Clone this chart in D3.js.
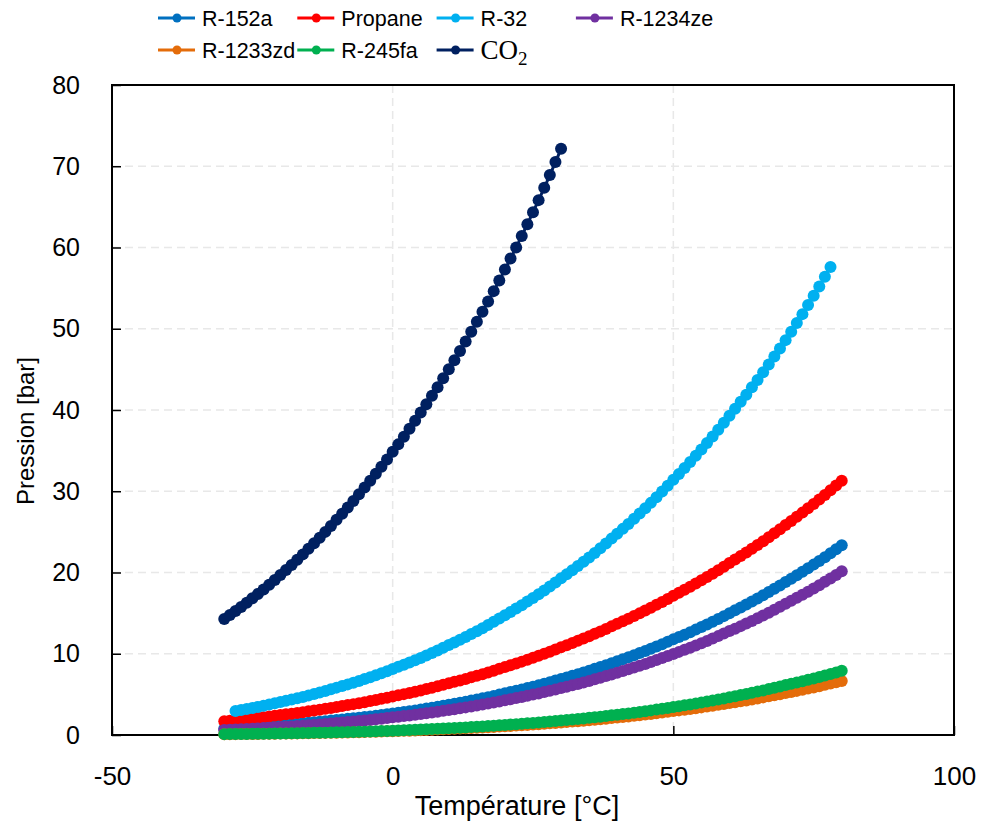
<!DOCTYPE html>
<html>
<head>
<meta charset="utf-8">
<script src="https://cdn.jsdelivr.net/npm/d3@7"></script>
<style>
  html, body { margin: 0; padding: 0; background: #fff; }
  svg { display: block; }
</style>
</head>
<body>
<svg id="chart" width="983" height="825"></svg>
<script>
// ---------------- DATA ----------------
const temperatures = [-30,-29,-28,-27,-26,-25,-24,-23,-22,-21,-20,-19,-18,-17,-16,-15,-14,-13,-12,-11,-10,-9,-8,-7,-6,-5,-4,-3,-2,-1,0,1,2,3,4,5,6,7,8,9,10,11,12,13,14,15,16,17,18,19,20,21,22,23,24,25,26,27,28,29,30,31,32,33,34,35,36,37,38,39,40,41,42,43,44,45,46,47,48,49,50,51,52,53,54,55,56,57,58,59,60,61,62,63,64,65,66,67,68,69,70,71,72,73,74,75,76,77,78,79,80];

const seriesNames = ["R-152a", "Propane", "R-32", "R-1234ze", "R-1233zd", "R-245fa", "CO2"];

// Saturation pressure [bar], one value per temperature step from its range start
const tempRangeR152a   = [-30, 80];
const tempRangePropane = [-30, 80];
const tempRangeR32     = [-28, 78];
const tempRangeR1234ze = [-30, 80];
const tempRangeR1233zd = [-30, 80];
const tempRangeR245fa  = [-30, 80];
const tempRangeCO2     = [-30, 30];

const pressureR152a = [0.77,0.81,0.84,0.88,0.93,0.97,1.02,1.06,1.11,1.17,1.22,
  1.27,1.33,1.38,1.44,1.50,1.57,1.63,1.70,1.77,1.85,
  1.92,1.99,2.06,2.13,2.21,2.29,2.37,2.46,2.55,2.64,
  2.73,2.83,2.93,3.03,3.14,3.25,3.36,3.48,3.60,3.73,
  3.85,3.98,4.10,4.24,4.37,4.52,4.66,4.81,4.97,5.13,
  5.28,5.44,5.61,5.78,5.95,6.13,6.31,6.50,6.70,6.90,
  7.09,7.29,7.49,7.70,7.92,8.14,8.37,8.60,8.84,9.09,
  9.33,9.57,9.82,10.08,10.34,10.61,10.89,11.18,11.47,11.77,
  12.06,12.35,12.66,12.97,13.28,13.61,13.94,14.28,14.63,14.99,
  15.34,15.69,16.05,16.42,16.80,17.19,17.59,17.99,18.41,18.83,
  19.24,19.66,20.09,20.52,20.97,21.42,21.89,22.37,22.85,23.35];

const pressurePropane = [1.68,1.74,1.81,1.88,1.95,2.03,2.11,2.19,2.27,2.36,2.45,
  2.54,2.62,2.71,2.81,2.91,3.01,3.11,3.22,3.33,3.45,
  3.56,3.68,3.80,3.92,4.04,4.17,4.31,4.45,4.59,4.74,
  4.88,5.03,5.18,5.33,5.49,5.65,5.82,6.00,6.18,6.36,
  6.54,6.72,6.90,7.10,7.29,7.49,7.70,7.92,8.14,8.36,
  8.58,8.80,9.03,9.26,9.50,9.74,10.00,10.25,10.52,10.79,
  11.05,11.32,11.59,11.87,12.15,12.45,12.75,13.05,13.37,13.69,
  14.00,14.32,14.64,14.97,15.31,15.66,16.02,16.38,16.75,17.13,
  17.50,17.87,18.25,18.64,19.04,19.45,19.86,20.29,20.72,21.16,
  21.59,22.02,22.47,22.92,23.38,23.85,24.34,24.83,25.33,25.84,
  26.34,26.85,27.37,27.90,28.44,28.99,29.55,30.12,30.71,31.30];

const pressureR32 = [2.96,3.08,3.20,3.33,3.46,3.60,3.75,3.90,4.06,
  4.21,4.36,4.53,4.69,4.87,5.04,5.23,5.42,5.62,5.83,
  6.03,6.23,6.44,6.66,6.89,7.12,7.36,7.61,7.86,8.13,
  8.39,8.65,8.92,9.20,9.49,9.79,10.09,10.41,10.74,11.07,
  11.39,11.72,12.07,12.42,12.78,13.15,13.53,13.93,14.33,14.75,
  15.15,15.56,15.98,16.42,16.86,17.32,17.79,18.27,18.77,19.28,
  19.77,20.27,20.79,21.32,21.86,22.41,22.98,23.57,24.17,24.78,
  25.37,25.98,26.61,27.25,27.90,28.57,29.25,29.96,30.68,31.41,
  32.12,32.85,33.59,34.36,35.13,35.93,36.74,37.58,38.43,39.30,
  40.14,41.01,41.89,42.79,43.70,44.64,45.60,46.58,47.58,48.60,
  49.64,50.71,51.80,52.91,54.05,55.21,56.39,57.60];

const pressureR1234ze = [0.62,0.65,0.68,0.71,0.74,0.78,0.81,0.85,0.89,0.93,0.97,
  1.01,1.05,1.10,1.15,1.19,1.24,1.30,1.35,1.41,1.47,
  1.53,1.59,1.65,1.72,1.79,1.86,1.93,2.01,2.09,2.17,
  2.25,2.33,2.41,2.50,2.59,2.68,2.77,2.87,2.97,3.08,
  3.18,3.29,3.40,3.51,3.63,3.75,3.87,4.00,4.13,4.27,
  4.40,4.54,4.68,4.82,4.97,5.12,5.28,5.44,5.61,5.78,
  5.95,6.12,6.29,6.47,6.66,6.85,7.05,7.25,7.46,7.67,
  7.87,8.08,8.30,8.52,8.75,8.98,9.22,9.47,9.72,9.98,
  10.23,10.49,10.75,11.02,11.30,11.58,11.87,12.17,12.48,12.79,
  13.09,13.40,13.72,14.04,14.37,14.71,15.06,15.41,15.78,16.15,
  16.51,16.88,17.26,17.64,18.03,18.44,18.85,19.27,19.70,20.14];

const pressureR1233zd = [0.095,0.101,0.107,0.113,0.120,0.127,0.135,0.143,0.151,0.160,0.170,
  0.179,0.189,0.200,0.211,0.222,0.234,0.247,0.261,0.275,0.290,
  0.304,0.319,0.335,0.352,0.369,0.387,0.407,0.427,0.448,0.470,
  0.491,0.513,0.536,0.561,0.586,0.612,0.640,0.668,0.699,0.730,
  0.759,0.790,0.821,0.854,0.888,0.924,0.960,0.999,1.039,1.080,
  1.119,1.159,1.201,1.245,1.290,1.336,1.384,1.434,1.486,1.540,
  1.59,1.65,1.70,1.76,1.82,1.88,1.95,2.01,2.08,2.15,
  2.22,2.29,2.36,2.44,2.51,2.59,2.68,2.76,2.85,2.94,
  3.03,3.12,3.21,3.30,3.40,3.50,3.60,3.71,3.82,3.93,
  4.04,4.15,4.26,4.38,4.50,4.63,4.76,4.89,5.02,5.16,
  5.29,5.43,5.57,5.71,5.86,6.01,6.17,6.33,6.49,6.66];

const pressureR245fa = [0.107,0.113,0.120,0.127,0.135,0.143,0.151,0.160,0.169,0.179,0.190,
  0.200,0.212,0.223,0.236,0.249,0.262,0.277,0.292,0.308,0.325,
  0.341,0.358,0.376,0.395,0.415,0.436,0.458,0.481,0.505,0.530,
  0.554,0.580,0.606,0.634,0.663,0.694,0.726,0.759,0.794,0.830,
  0.864,0.899,0.936,0.975,1.015,1.056,1.099,1.144,1.191,1.240,
  1.286,1.333,1.382,1.433,1.486,1.540,1.597,1.656,1.717,1.780,
  1.84,1.91,1.97,2.04,2.11,2.18,2.26,2.34,2.42,2.50,
  2.58,2.66,2.75,2.84,2.93,3.03,3.13,3.23,3.33,3.44,
  3.54,3.65,3.76,3.88,4.00,4.12,4.24,4.37,4.50,4.64,
  4.77,4.91,5.05,5.19,5.34,5.49,5.65,5.81,5.97,6.14,
  6.30,6.46,6.62,6.79,6.96,7.14,7.32,7.51,7.70,7.90];

const pressureCO2 = [14.28,14.76,15.25,15.76,16.28,16.82,
  17.36,17.92,18.49,19.09,19.70,
  20.30,20.93,21.57,22.23,22.91,
  23.59,24.28,25.00,25.73,26.49,
  27.24,28.01,28.80,29.62,30.46,
  31.29,32.14,33.02,33.92,34.85,
  35.77,36.71,37.68,38.67,39.69,
  40.70,41.74,42.81,43.90,45.02,
  46.13,47.27,48.44,49.64,50.87,
  52.09,53.35,54.63,55.94,57.29,
  58.64,60.01,61.42,62.87,64.34,
  65.83,67.35,68.91,70.51,72.14];

const xTicks = [-50, 0, 50, 100];
const yTicks = [0, 10, 20, 30, 40, 50, 60, 70, 80];
const xLabel = "Température [°C]";
const yLabel = "Pression [bar]";

// ---------------- BUILD ----------------
function build(range, values) {
  const temps = temperatures.filter(t => t >= range[0] && t <= range[1]);
  return temps.map((t, i) => ({ t: t, p: values[i] }));
}
const colors = ["#0070C0", "#FF0000", "#00B0F0", "#7030A0", "#E46C0A", "#00B050", "#002060"];
const series = [
  build(tempRangeR152a, pressureR152a),
  build(tempRangePropane, pressurePropane),
  build(tempRangeR32, pressureR32),
  build(tempRangeR1234ze, pressureR1234ze),
  build(tempRangeR1233zd, pressureR1233zd),
  build(tempRangeR245fa, pressureR245fa),
  build(tempRangeCO2, pressureCO2)
].map((pts, i) => ({ name: seriesNames[i], color: colors[i], pts: pts }));

const svg = d3.select("#chart");
const L = 112, R = 954, T = 85, B = 735;
const x = d3.scaleLinear().domain([-50, 100]).range([L, R]);
const y = d3.scaleLinear().domain([0, 80]).range([B, T]);

const sansFont = "'Liberation Sans', Arial, sans-serif";

// grid
const grid = svg.append("g");
grid.selectAll("line.h").data(yTicks.filter(v => v > 0 && v < 80)).join("line")
  .attr("x1", L).attr("x2", R).attr("y1", d => y(d)).attr("y2", d => y(d))
  .attr("stroke", "#e8e8e8").attr("stroke-width", 1.5).attr("stroke-dasharray", "8,5");
grid.selectAll("line.v").data(xTicks.filter(v => v > -50 && v < 100)).join("line")
  .attr("y1", T).attr("y2", B).attr("x1", d => x(d)).attr("x2", d => x(d))
  .attr("stroke", "#e8e8e8").attr("stroke-width", 1.5).attr("stroke-dasharray", "8,5");

// axes
const fmt = d => String(d);
const yAxis = d3.axisLeft(y).tickValues(yTicks).tickFormat(fmt).tickSizeInner(-9).tickSizeOuter(0).tickPadding(32);
const gy = svg.append("g").attr("transform", `translate(${L},0)`).call(yAxis);
gy.select(".domain").remove();
gy.selectAll(".tick line").attr("stroke", "#000").attr("stroke-width", 1.5);
gy.selectAll(".tick text").attr("font-family", sansFont)
  .attr("font-size", 25).attr("fill", "#000");

const xAxis = d3.axisBottom(x).tickValues(xTicks).tickFormat(fmt).tickSizeInner(-9).tickSizeOuter(0).tickPadding(32);
const gx = svg.append("g").attr("transform", `translate(0,${B})`).call(xAxis);
gx.select(".domain").remove();
gx.selectAll(".tick line").attr("stroke", "#000").attr("stroke-width", 1.5);
gx.selectAll(".tick text").attr("font-family", sansFont).attr("font-size", 26).attr("fill", "#000");

// frame
svg.append("rect").attr("x", L).attr("y", T).attr("width", R - L).attr("height", B - T)
  .attr("fill", "none").attr("stroke", "#000").attr("stroke-width", 2);

// series
const line = d3.line().x(d => x(d.t)).y(d => y(d.p));
const plot = svg.append("g");
series.forEach(s => {
  const g = plot.append("g");
  g.append("path").datum(s.pts).attr("d", line).attr("fill", "none")
    .attr("stroke", s.color).attr("stroke-width", 3);
  g.selectAll("circle").data(s.pts).join("circle")
    .attr("cx", d => x(d.t)).attr("cy", d => y(d.p)).attr("r", 6).attr("fill", s.color);
});

// axis titles
svg.append("text").attr("x", 517).attr("y", 815).attr("text-anchor", "middle")
  .attr("font-family", sansFont).attr("font-size", 27).attr("fill", "#000").text(xLabel);
svg.append("text").attr("transform", "translate(34,431) rotate(-90)").attr("text-anchor", "middle")
  .attr("font-family", sansFont).attr("font-size", 24).attr("fill", "#000").text(yLabel);

// legend
const legend = svg.append("g");
series.forEach((s, i) => {
  const col = i < 4 ? i : i - 4;
  const row = i < 4 ? 0 : 1;
  const lx = 158 + col * 139.3, ly = 18 + row * 32;
  const g = legend.append("g").attr("transform", `translate(${lx},${ly})`);
  g.append("line").attr("x1", 0).attr("x2", 37).attr("y1", 0).attr("y2", 0)
    .attr("stroke", s.color).attr("stroke-width", 3);
  g.append("circle").attr("cx", 19).attr("cy", 0).attr("r", 4.5).attr("fill", s.color);
  if (s.name === "CO2") {
    const t = g.append("text").attr("x", 44).attr("y", 9)
      .attr("font-family", "'Liberation Serif', 'DejaVu Serif', serif").attr("font-size", 27).attr("fill", "#000");
    t.append("tspan").text("CO");
    t.append("tspan").attr("dy", 6).attr("font-size", 19).text("2");
  } else {
    g.append("text").attr("x", 44).attr("y", 8)
      .attr("font-family", sansFont).attr("font-size", 21.5).attr("fill", "#000").text(s.name);
  }
});
</script>
</body>
</html>
